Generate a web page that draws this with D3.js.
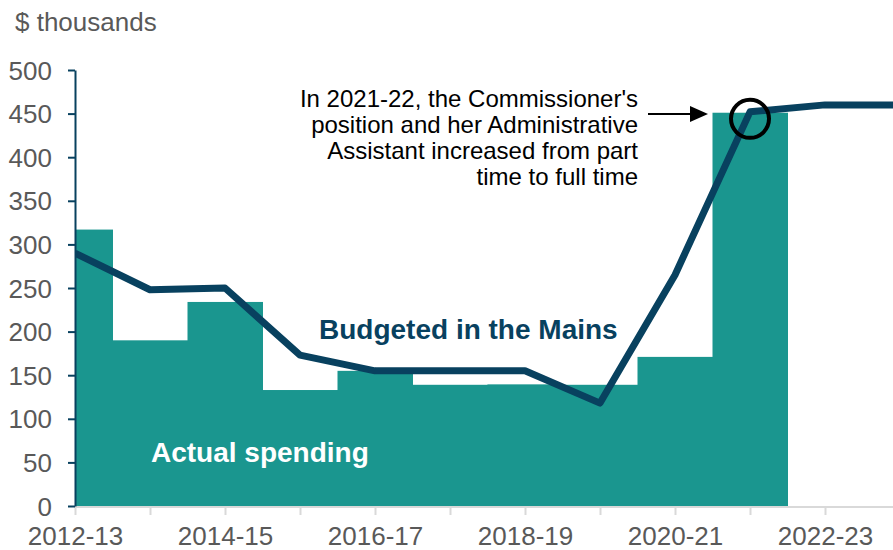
<!DOCTYPE html>
<html>
<head>
<meta charset="utf-8">
<script src="https://cdn.jsdelivr.net/npm/d3@7"></script>
<style>
  html, body { margin: 0; padding: 0; background: #fff; }
  svg { display: block; font-family: "Liberation Sans", Arial, sans-serif; }
</style>
</head>
<body>
<svg id="chart" width="893" height="550"></svg>
<script>
// Fiscal years shown on the horizontal axis
const years = ["2012-13", "2013-14", "2014-15", "2015-16", "2016-17", "2017-18",
               "2018-19", "2019-20", "2020-21", "2021-22", "2022-23", "2023-24"];
// Actual spending ($ thousands); no actuals yet for the last two years
const actualSpending = [317, 190, 234, 133, 155, 139, 139.5, 139, 171, 451, null, null];
// Budgeted amounts in the Main Estimates ($ thousands)
const budgetedMains = [290, 248, 250, 173, 155, 155, 155, 118, 265, 452, 460, 460];
// Axis tick values and labelled years
const yTicks = [0, 50, 100, 150, 200, 250, 300, 350, 400, 450, 500];
const xLabelYears = ["2012-13", "2014-15", "2016-17", "2018-19", "2020-21", "2022-23"];
// Annotation text
const noteLines = ["In 2021-22, the Commissioner's", "position and her Administrative",
                   "Assistant increased from part", "time to full time"];

const svg = d3.select("#chart");
const W = 893, H = 550;
const plotLeft = 75, plotTop = 70, plotBottom = 506;
const fontFamily = "Liberation Sans, Arial, sans-serif";

const x = d3.scalePoint().domain(years).range([plotLeft, plotLeft + 75 * (years.length - 1)]);
const step = x.step();
const y = d3.scaleLinear().domain([0, 500]).range([plotBottom, plotTop]);

const tealBar = "#1a968f";
const navy = "#08415f";
const grey = "#595959";

const defs = svg.append("defs");
defs.append("clipPath").attr("id", "plot")
  .append("rect").attr("x", plotLeft).attr("y", 0).attr("width", W - plotLeft).attr("height", H);

// Actual spending as contiguous columns centred on each year
const bars = years.map((c, i) => ({ year: c, v: actualSpending[i] })).filter(d => d.v != null);
svg.append("g").attr("clip-path", "url(#plot)")
  .selectAll("rect").data(bars).join("rect")
  .attr("x", d => x(d.year) - step / 2)
  .attr("width", step + 0.5)
  .attr("y", d => y(d.v))
  .attr("height", d => y(0) - y(d.v))
  .attr("fill", tealBar);

// X axis (light grey baseline with downward ticks)
const xAxis = d3.axisBottom(x).tickSize(8).tickSizeOuter(0)
  .tickFormat(d => xLabelYears.includes(d) ? d : "");
const gx = svg.append("g").attr("transform", `translate(0,${plotBottom + 1})`).call(xAxis);
gx.select(".domain").attr("stroke", "#d9d9d9").attr("stroke-width", 2)
  .attr("d", `M${plotLeft},0H${W}`);
gx.selectAll(".tick line").attr("stroke", "#d9d9d9").attr("stroke-width", 2);
gx.selectAll(".tick text").attr("fill", grey).attr("font-size", 26)
  .attr("font-family", fontFamily).attr("dy", null).attr("y", 38);

// Y axis
const yAxis = d3.axisLeft(y).tickValues(yTicks).tickSize(7).tickSizeOuter(0).tickPadding(16);
const gy = svg.append("g").attr("transform", `translate(${plotLeft},0)`).call(yAxis);
gy.select(".domain").attr("stroke", navy).attr("stroke-width", 2);
gy.selectAll(".tick line").attr("stroke", navy).attr("stroke-width", 2);
gy.selectAll(".tick text").attr("fill", grey).attr("font-size", 26)
  .attr("font-family", fontFamily).attr("dy", "0.35em");

// Budgeted line
const line = d3.line().x((d, i) => x(years[i])).y(d => y(d));
svg.append("path").attr("clip-path", "url(#plot)")
  .datum(budgetedMains)
  .attr("d", line)
  .attr("fill", "none")
  .attr("stroke", navy)
  .attr("stroke-width", 7)
  .attr("stroke-linejoin", "round");

// Unit label
svg.append("text").attr("x", 15).attr("y", 31).attr("fill", grey)
  .attr("font-size", 26).text("$ thousands");

// Series labels
svg.append("text").attr("x", 319).attr("y", 339).attr("fill", navy)
  .attr("font-size", 28).attr("font-weight", "bold").text("Budgeted in the Mains");
svg.append("text").attr("x", 151).attr("y", 462).attr("fill", "#fff")
  .attr("font-size", 28).attr("font-weight", "bold").text("Actual spending");

// Annotation
const note = svg.append("text").attr("text-anchor", "end").attr("fill", "#000")
  .attr("font-size", 24);
noteLines.forEach((t, i) => {
  note.append("tspan").attr("x", 638).attr("y", 107 + i * 26).text(t);
});
svg.append("line").attr("x1", 648).attr("x2", 700).attr("y1", 114).attr("y2", 114)
  .attr("stroke", "#000").attr("stroke-width", 2);
svg.append("path").attr("d", "M690,106L708,114L690,122z").attr("fill", "#000");
svg.append("circle").attr("cx", x("2021-22")).attr("cy", y(budgetedMains[9]) + 7)
  .attr("r", 19).attr("fill", "none").attr("stroke", "#000").attr("stroke-width", 4);
</script>
</body>
</html>
